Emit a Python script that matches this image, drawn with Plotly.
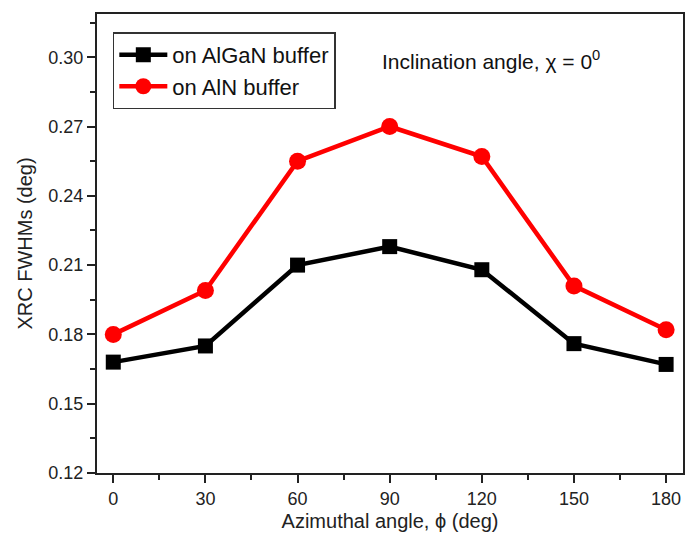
import plotly.graph_objects as go

azimuth = [0, 30, 60, 90, 120, 150, 180]
algan = [0.168, 0.175, 0.210, 0.218, 0.208, 0.176, 0.167]
aln = [0.180, 0.199, 0.255, 0.270, 0.257, 0.201, 0.182]
y_ticks = [0.12, 0.15, 0.18, 0.21, 0.24, 0.27, 0.30]
y_tick_labels = ["0.12", "0.15", "0.18", "0.21", "0.24", "0.27", "0.30"]
x_ticks = [0, 30, 60, 90, 120, 150, 180]

font = "Liberation Sans, Arial, sans-serif"

fig = go.Figure()
fig.add_trace(go.Scatter(
    x=azimuth, y=algan, mode="lines+markers", name="on AlGaN buffer",
    line=dict(color="black", width=4.5),
    marker=dict(symbol="square", size=15, color="black"),
))
fig.add_trace(go.Scatter(
    x=azimuth, y=aln, mode="lines+markers", name="on AlN buffer",
    line=dict(color="#ff0000", width=4.5),
    marker=dict(symbol="circle", size=17, color="#ff0000"),
))

fig.update_layout(
    width=688, height=542,
    margin=dict(l=97, r=3, t=14, b=69),
    plot_bgcolor="white", paper_bgcolor="white",
    font=dict(family=font, size=18, color="#222"),
    showlegend=True,
    legend=dict(
        x=0.027, y=0.96, xanchor="left", yanchor="top",
        bordercolor="#333", borderwidth=1.5, bgcolor="white",
        font=dict(size=22, color="#111"),
        tracegroupgap=0, itemwidth=48,
    ),
    annotations=[dict(
        x=0.483, y=0.9, xref="paper", yref="paper",
        xanchor="left", yanchor="middle", showarrow=False,
        text="Inclination angle, χ = 0<sup>0</sup>",
        font=dict(size=21, color="#111"),
    )],
)

fig.update_xaxes(
    range=[-5.3, 185.5], tickvals=x_ticks,
    showline=True, linecolor="#222", linewidth=2, mirror=True,
    ticks="outside", ticklen=8, tickwidth=2, tickcolor="#222",
    minor=dict(dtick=15, ticks="outside", ticklen=5, tickwidth=1.5, tickcolor="#222"),
    showgrid=False, zeroline=False,
    title=dict(text="Azimuthal angle, ϕ (deg)", font=dict(size=20), standoff=6),
    tickfont=dict(size=18),
)
fig.update_yaxes(
    range=[0.12, 0.3187], tickvals=y_ticks, ticktext=y_tick_labels,
    showline=True, linecolor="#222", linewidth=2, mirror=True,
    ticks="outside", ticklen=8, tickwidth=2, tickcolor="#222",
    minor=dict(tickvals=[0.135, 0.165, 0.195, 0.225, 0.255, 0.285, 0.315],
               ticks="outside", ticklen=5, tickwidth=1.5, tickcolor="#222"),
    showgrid=False, zeroline=False,
    title=dict(text="XRC FWHMs (deg)", font=dict(size=20), standoff=10),
    tickfont=dict(size=18),
)

fig.write_html("out.html")
